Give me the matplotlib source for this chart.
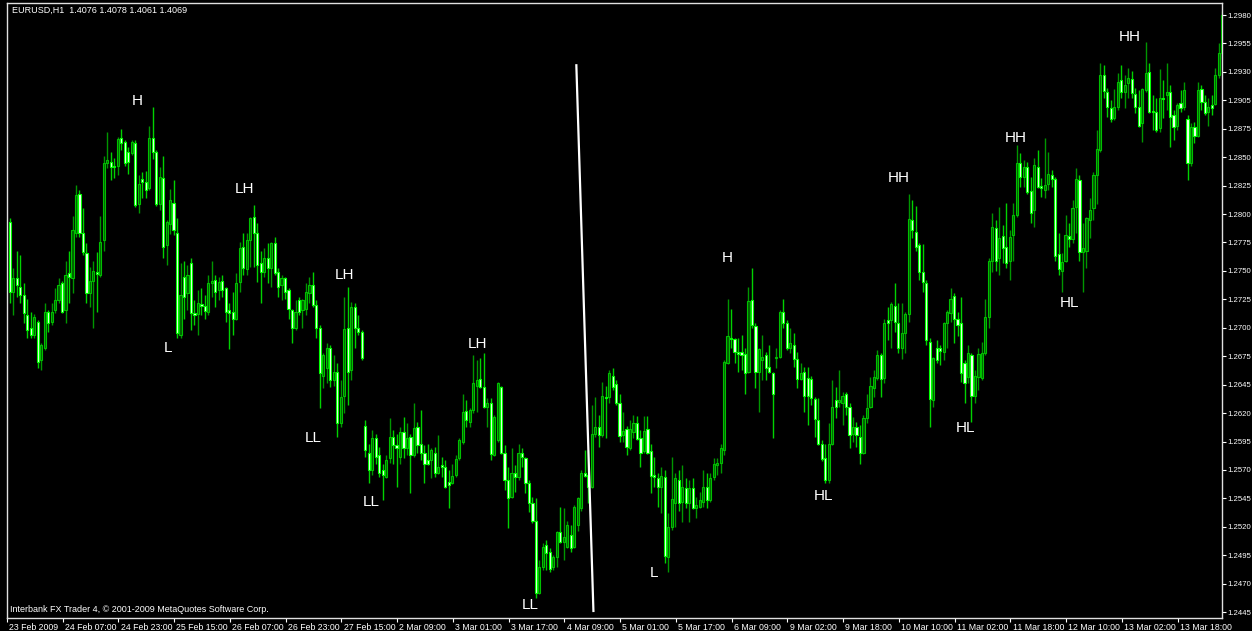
import numpy as np
import matplotlib
matplotlib.use("Agg")
import matplotlib.pyplot as plt
import matplotlib.transforms as mtransforms

# --- 1. Hourly candles (values in pips above 1.2000) ---
opens = [
    795, 732, 744, 736, 729, 711, 700, 693, 705, 671,
    682, 714, 705, 716, 725, 740, 716, 749, 744, 785,
    820, 785, 767, 731, 742, 750, 747, 778, 847, 848,
    845, 845, 870, 866, 857, 856, 865, 811, 833, 830,
    825, 870, 857, 811, 834, 774, 793, 812, 785, 693,
    745, 731, 758, 713, 712, 721, 719, 714, 740, 743,
    734, 742, 735, 716, 714, 708, 741, 772, 752, 778,
    799, 785, 758, 750, 762, 753, 776, 750, 738, 744,
    734, 716, 700, 725, 716, 717, 731, 738, 720, 700,
    657, 664, 682, 653, 660, 614, 639, 700, 662, 718,
    700, 696, 612, 588, 572, 601, 586, 572, 566, 583,
    602, 595, 584, 606, 592, 602, 586, 611, 596, 588,
    581, 581, 588, 570, 577, 575, 562, 561, 568, 583,
    597, 625, 615, 626, 648, 654, 647, 629, 632, 586,
    599, 647, 588, 563, 548, 570, 566, 588, 583, 561,
    543, 527, 462, 485, 505, 499, 485, 494, 517, 508,
    503, 514, 503, 523, 538, 570, 568, 557, 605, 611,
    604, 638, 638, 657, 649, 632, 604, 609, 592, 606,
    614, 601, 589, 609, 589, 568, 565, 557, 566, 494,
    521, 543, 563, 544, 556, 543, 556, 538, 539, 544,
    557, 545, 566, 577, 579, 590, 668, 691, 690, 678,
    678, 676, 660, 725, 701, 660, 671, 675, 665, 659,
    673, 674, 714, 704, 682, 684, 672, 654, 660, 655,
    654, 636, 617, 596, 583, 563, 596, 635, 633, 632,
    640, 629, 605, 611, 602, 588, 619, 629, 646, 655,
    675, 655, 707, 707, 719, 704, 682, 695, 712, 796,
    786, 774, 750, 740, 687, 635, 682, 682, 678, 704,
    713, 728, 708, 704, 668, 656, 675, 639, 656, 655,
    677, 709, 760, 789, 762, 782, 772, 760, 783, 801,
    847, 835, 844, 822, 805, 844, 827, 823, 829, 837,
    833, 766, 751, 760, 782, 779, 808, 832, 768, 769,
    796, 807, 837, 859, 926, 911, 897, 888, 898, 922,
    911, 919, 923, 909, 898, 883, 913, 929, 894, 893,
    879, 906, 908, 911, 890, 881, 901, 898, 887, 847,
    880, 872, 914, 902, 893, 899, 900, 926, 946,
]
highs = [
    798, 753, 769, 765, 740, 726, 714, 712, 707, 686,
    722, 716, 722, 735, 744, 742, 760, 769, 800, 828,
    823, 807, 776, 754, 760, 768, 800, 854, 875, 857,
    852, 871, 878, 868, 862, 868, 868, 837, 839, 840,
    881, 898, 859, 844, 854, 796, 824, 832, 798, 758,
    760, 756, 762, 725, 734, 735, 729, 747, 760, 747,
    745, 747, 736, 722, 732, 749, 777, 785, 785, 799,
    810, 794, 769, 771, 776, 777, 781, 753, 747, 745,
    735, 717, 725, 727, 726, 740, 745, 750, 725, 702,
    677, 686, 684, 675, 668, 653, 727, 736, 723, 722,
    711, 698, 617, 596, 608, 605, 593, 578, 586, 619,
    608, 605, 611, 620, 614, 605, 632, 615, 626, 595,
    596, 592, 593, 604, 584, 581, 572, 578, 586, 601,
    640, 635, 628, 675, 671, 673, 677, 637, 637, 622,
    651, 648, 595, 575, 592, 577, 596, 592, 584, 563,
    548, 547, 492, 507, 510, 502, 496, 518, 539, 538,
    527, 523, 541, 548, 572, 590, 590, 631, 638, 622,
    651, 648, 662, 664, 653, 640, 624, 612, 617, 622,
    621, 608, 621, 621, 596, 584, 570, 575, 572, 534,
    584, 570, 572, 577, 565, 563, 565, 548, 553, 572,
    570, 570, 583, 583, 596, 671, 726, 717, 691, 691,
    693, 682, 736, 753, 704, 682, 693, 678, 684, 660,
    682, 716, 726, 707, 700, 695, 678, 668, 665, 665,
    657, 638, 637, 599, 596, 614, 653, 647, 662, 642,
    642, 632, 620, 615, 613, 622, 640, 656, 662, 680,
    677, 708, 718, 723, 740, 722, 722, 714, 820, 814,
    809, 776, 775, 743, 691, 674, 689, 684, 705, 716,
    735, 731, 714, 727, 671, 684, 677, 662, 682, 687,
    726, 762, 803, 796, 808, 792, 812, 787, 812, 864,
    856, 850, 848, 835, 852, 859, 834, 870, 857, 841,
    835, 785, 767, 801, 794, 814, 843, 837, 794, 799,
    816, 839, 877, 937, 935, 915, 904, 914, 928, 935,
    926, 933, 930, 915, 913, 915, 956, 937, 908, 906,
    932, 922, 937, 917, 895, 901, 913, 920, 890, 883,
    884, 920, 917, 908, 906, 908, 933, 955, 984,
]
lows = [
    722, 711, 727, 722, 704, 691, 691, 691, 664, 662,
    680, 696, 702, 713, 722, 713, 704, 722, 731, 781,
    781, 765, 722, 718, 700, 714, 745, 769, 843, 832,
    834, 837, 859, 845, 838, 855, 808, 803, 816, 816,
    823, 851, 809, 805, 762, 756, 784, 783, 691, 691,
    708, 716, 698, 702, 693, 711, 708, 711, 727, 718,
    725, 727, 705, 681, 693, 707, 732, 747, 747, 754,
    754, 741, 722, 745, 740, 736, 747, 727, 725, 726,
    708, 686, 698, 711, 700, 711, 722, 718, 691, 628,
    646, 650, 647, 648, 602, 611, 623, 631, 653, 682,
    693, 671, 584, 561, 568, 578, 566, 545, 565, 579,
    578, 557, 578, 583, 586, 552, 584, 588, 581, 561,
    577, 565, 566, 569, 566, 556, 538, 560, 566, 581,
    596, 611, 611, 623, 624, 646, 628, 611, 581, 585,
    597, 587, 554, 520, 547, 553, 563, 575, 552, 535,
    525, 458, 461, 483, 483, 481, 483, 485, 507, 492,
    502, 499, 502, 518, 536, 566, 543, 556, 602, 593,
    602, 601, 632, 644, 631, 597, 597, 586, 590, 601,
    599, 575, 588, 587, 552, 557, 539, 534, 489, 481,
    519, 521, 536, 526, 538, 526, 537, 529, 538, 539,
    538, 544, 563, 568, 570, 586, 667, 682, 668, 660,
    662, 640, 659, 700, 646, 624, 653, 653, 659, 601,
    664, 673, 700, 680, 677, 665, 646, 653, 624, 613,
    631, 602, 595, 580, 561, 561, 595, 619, 629, 613,
    622, 592, 597, 593, 578, 587, 614, 628, 638, 653,
    638, 650, 689, 682, 696, 677, 672, 677, 705, 780,
    769, 743, 732, 684, 611, 629, 668, 666, 671, 682,
    705, 686, 692, 651, 632, 650, 615, 632, 644, 653,
    675, 700, 750, 751, 747, 758, 753, 743, 760, 799,
    826, 826, 820, 794, 790, 825, 817, 816, 823, 826,
    760, 747, 732, 759, 772, 776, 785, 760, 732, 753,
    780, 796, 811, 857, 906, 889, 884, 886, 895, 906,
    897, 906, 906, 892, 880, 866, 911, 892, 877, 875,
    875, 888, 895, 862, 868, 877, 893, 895, 832, 845,
    865, 871, 895, 890, 881, 890, 899, 924, 941,
]
closes = [
    732, 744, 738, 729, 713, 698, 693, 709, 669, 684,
    714, 704, 714, 725, 738, 714, 747, 745, 787, 819,
    785, 768, 731, 742, 751, 748, 777, 847, 850, 844,
    844, 869, 865, 847, 848, 866, 810, 829, 830, 823,
    870, 857, 811, 835, 772, 795, 814, 787, 695, 729,
    727, 747, 713, 711, 722, 719, 715, 740, 742, 732,
    741, 734, 714, 713, 708, 740, 771, 753, 778, 798,
    785, 756, 750, 762, 753, 776, 749, 736, 744, 732,
    717, 700, 714, 714, 725, 732, 738, 720, 700, 659,
    675, 682, 653, 660, 614, 638, 699, 660, 718, 700,
    696, 673, 590, 572, 601, 584, 570, 568, 581, 602,
    595, 592, 606, 592, 601, 586, 610, 595, 588, 578,
    578, 590, 570, 575, 575, 557, 559, 567, 582, 599,
    624, 617, 626, 650, 653, 647, 629, 632, 587, 620,
    650, 588, 563, 547, 570, 566, 588, 584, 561, 543,
    527, 462, 485, 503, 498, 484, 494, 517, 508, 512,
    523, 502, 539, 547, 570, 567, 557, 605, 611, 604,
    639, 637, 659, 647, 632, 603, 607, 593, 609, 614,
    600, 588, 607, 588, 567, 566, 557, 567, 495, 521,
    546, 565, 543, 557, 543, 556, 538, 541, 545, 557,
    545, 565, 578, 579, 592, 669, 692, 690, 678, 676,
    675, 659, 724, 702, 660, 681, 674, 664, 660, 640,
    674, 714, 704, 682, 686, 672, 654, 659, 639, 639,
    637, 618, 596, 582, 563, 596, 629, 629, 635, 639,
    629, 604, 611, 604, 588, 619, 628, 648, 656, 675,
    654, 704, 704, 721, 705, 682, 695, 712, 797, 787,
    772, 750, 741, 689, 636, 673, 671, 679, 704, 714,
    726, 708, 702, 659, 650, 677, 639, 657, 676, 677,
    709, 760, 790, 760, 780, 771, 758, 781, 801, 847,
    835, 844, 821, 803, 846, 826, 825, 828, 838, 833,
    764, 752, 759, 783, 779, 807, 833, 768, 771, 798,
    805, 837, 860, 926, 912, 898, 887, 898, 920, 911,
    917, 924, 910, 898, 881, 914, 928, 893, 893, 877,
    906, 905, 911, 889, 880, 899, 897, 913, 847, 880,
    872, 913, 902, 892, 898, 897, 926, 946, 980,
]

# time axis labels, one every 16 bars
x_labels = ["23 Feb 2009", "24 Feb 07:00", "24 Feb 23:00", "25 Feb 15:00",
            "26 Feb 07:00", "26 Feb 23:00", "27 Feb 15:00", "2 Mar 09:00",
            "3 Mar 01:00", "3 Mar 17:00", "4 Mar 09:00", "5 Mar 01:00",
            "5 Mar 17:00", "6 Mar 09:00", "9 Mar 02:00", "9 Mar 18:00",
            "10 Mar 10:00", "11 Mar 02:00", "11 Mar 18:00", "12 Mar 10:00",
            "13 Mar 02:00", "13 Mar 18:00"]

# price scale labels as the terminal prints them (top to bottom)
y_labels = ["1.2980", "1.2955", "1.2930", "1.2905", "1.2875", "1.2850",
            "1.2825", "1.2800", "1.2775", "1.2750", "1.2725", "1.2700",
            "1.2675", "1.2645", "1.2620", "1.2595", "1.2570", "1.2545",
            "1.2520", "1.2495", "1.2470", "1.2445"]

# swing markers (text, bar index, pips)
swing_text = ["H", "L", "LH", "LH", "LL", "LL", "LH", "LL",
              "H", "L", "HH", "HL", "HH", "HL", "HL", "HH"]
swing_bar = [36.6, 45.5, 67.3, 96.2, 87.1, 103.7, 134.1, 149.5,
             206.0, 184.8, 255.0, 233.5, 288.6, 274.2, 304.1, 321.5]
swing_pips = [903, 682, 824, 747, 601, 544, 685, 451,
              762, 480, 834, 549, 870, 610, 722, 960]

# hand-drawn trend line
trend_bar = [162.6, 167.5]
trend_pips = [935, 446]


def to_price(p):
    return 1.2 + np.asarray(p, dtype=float) / 10000.0


o = to_price(opens)
h = to_price(highs)
l = to_price(lows)
c = to_price(closes)
x = np.arange(len(c))
up = c >= o
dn = ~up

# --- 2. Figure ---
W, H = 1252, 631
fig = plt.figure(figsize=(W / 100, H / 100), dpi=100, facecolor="black")
ax = fig.add_axes([7 / W, 13 / H, 1215 / W, 615 / H], facecolor="black")

# wicks
ax.vlines(x[up], l[up], h[up], color="#009600", linewidth=1.0, zorder=2)
ax.vlines(x[dn], l[dn], h[dn], color="#00d200", linewidth=1.0, zorder=2)

# bodies: rising = dark green, falling = white
ax.bar(x[up], (c - o)[up], bottom=o[up], width=0.62, color="#006000",
       edgecolor="#00c000", linewidth=0.8, zorder=3)
ax.bar(x[dn], (o - c)[dn], bottom=c[dn], width=0.62, color="#f4fff4",
       edgecolor="#00ff00", linewidth=0.8, zorder=3)

# trend line
ax.plot(trend_bar, to_price(trend_pips), color="white", linewidth=1.6, zorder=4)

# swing labels
for t, b, p in zip(swing_text, swing_bar, to_price(swing_pips)):
    ax.text(b, p, t, color="white", fontsize=11, family="Liberation Sans",
            ha="center", va="center", zorder=5)

# --- 3. Axes styling ---
ax.set_xlim(-0.37, 347.9)
ax.set_ylim(1.24397, 1.29908)

ax.set_yticks(np.linspace(1.2980, 1.2445, len(y_labels)))
ax.set_yticklabels(y_labels)
ax.yaxis.tick_right()
ax.tick_params(axis="y", direction="out", length=3, colors="white",
               labelsize=5.6, pad=0.8)

ax.set_xticks(np.arange(len(x_labels)) * 16 - 0.8)
ax.set_xticklabels(x_labels)
ax.tick_params(axis="x", direction="out", length=3, colors="white",
               labelsize=6.3, pad=0.5)
shift = mtransforms.ScaledTranslation(1.5 / 72, 0, fig.dpi_scale_trans)
for lbl in ax.get_xticklabels():
    lbl.set_ha("left")
    lbl.set_transform(lbl.get_transform() + shift)
for lbl in ax.get_xticklabels() + ax.get_yticklabels():
    lbl.set_family("Liberation Sans")

for s in ax.spines.values():
    s.set_color("#e0e0e0")
    s.set_linewidth(1.0)

# header and footer
fig.text(12 / W, 1 - 10 / H, "EURUSD,H1  1.4076 1.4078 1.4061 1.4069",
         color="white", fontsize=6.5, family="Liberation Sans", va="center")
fig.text(10 / W, 1 - 610 / H,
         "Interbank FX Trader 4, \u00a9 2001-2009 MetaQuotes Software Corp.",
         color="white", fontsize=6.5, family="Liberation Sans", va="center")

fig.savefig("out.png", dpi=100, facecolor="black")
